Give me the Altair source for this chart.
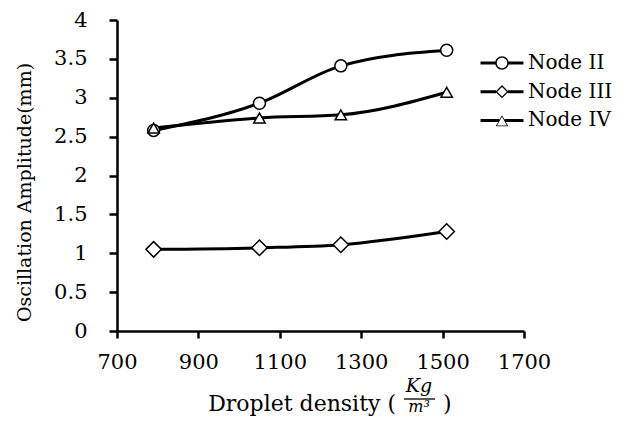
import altair as alt
import pandas as pd

# ---- data ----
density = [790, 1050, 1250, 1510]
node_ii = [2.58, 2.93, 3.41, 3.61]
node_iii = [1.05, 1.07, 1.11, 1.28]
node_iv = [2.61, 2.74, 2.78, 3.07]
series = ["Node II", "Node III", "Node IV"]
shapes = ["circle", "diamond", "triangle-up"]
marker_sizes = [144, 240, 130]
x_ticks = [700, 900, 1100, 1300, 1500, 1700]
y_ticks = [0, 0.5, 1, 1.5, 2, 2.5, 3, 3.5, 4]

FONT = "DejaVu Serif"

rows = []
for name, vals, sz in zip(series, [node_ii, node_iii, node_iv], marker_sizes):
    for d, v in zip(density, vals):
        rows.append({"density": d, "amp": v, "series": name, "msize": sz})
df = pd.DataFrame(rows)

# legend symbols: line through a ring-shaped marker (units of sqrt(size)/2 px)
circle_path = ("M-3.58,-0.25 L-1,-0.25 L-1,0.25 L-3.58,0.25 Z "
               "M1,-0.25 L3.58,-0.25 L3.58,0.25 L1,0.25 Z "
               "M-1.125,0 A1.125,1.125 0 1,1 1.125,0 A1.125,1.125 0 1,1 -1.125,0 Z "
               "M-0.875,0 A0.875,0.875 0 1,0 0.875,0 A0.875,0.875 0 1,0 -0.875,0 Z")
diamond_path = ("M-3.58,-0.25 L-1,-0.25 L-1,0.25 L-3.58,0.25 Z "
                "M1,-0.25 L3.58,-0.25 L3.58,0.25 L1,0.25 Z "
                "M0,-1.1 L1.1,0 L0,1.1 L-1.1,0 Z "
                "M0,-0.8 L-0.8,0 L0,0.8 L0.8,0 Z")
triangle_path = ("M-3.58,-0.25 L-0.45,-0.25 L-0.45,0.25 L-3.58,0.25 Z "
                 "M0.45,-0.25 L3.58,-0.25 L3.58,0.25 L0.45,0.25 Z "
                 "M0,-0.85 L1.05,0.97 L-1.05,0.97 Z "
                 "M0,-0.6 L-0.834,0.845 L0.834,0.845 Z")
legend_shapes = [circle_path, diamond_path, triangle_path]

x_enc = alt.X(
    "density:Q",
    scale=alt.Scale(domain=[700, 1700], nice=False, zero=False),
    axis=alt.Axis(values=x_ticks, format="d", title=None, grid=False,
                  tickSize=7, labelPadding=13, labelFontSize=21,
                  labelOverlap=False, labelFlush=False),
)
y_enc = alt.Y(
    "amp:Q",
    scale=alt.Scale(domain=[0, 4], nice=False),
    axis=alt.Axis(values=y_ticks, format="~g", grid=False, tickSize=8,
                  labelPadding=22, labelFontSize=21, labelOverlap=False,
                  labelFlush=False,
                  title="Oscillation Amplitude(mm)", titleFont=FONT,
                  titleFontSize=19, titleFontWeight="normal", titleColor="black",
                  titleAngle=270, titleX=-93, titleY=172, titleAlign="center",
                  titleBaseline="middle"),
)

base = alt.Chart(df)

lines = base.mark_line(interpolate="monotone", color="black", strokeWidth=3).encode(
    x=x_enc, y=y_enc, detail="series:N"
)

points = base.mark_point(filled=True, fill="white", stroke="black",
                         strokeWidth=1.5, opacity=1).encode(
    x=x_enc,
    y=y_enc,
    shape=alt.Shape("series:N", scale=alt.Scale(domain=series, range=shapes),
                    legend=None),
    size=alt.Size("msize:Q", scale=None),
)

# legend-only layer (no marks drawn): line-and-marker symbols
legend_layer = base.transform_filter("false").mark_point(
    filled=True, fill="black", strokeWidth=0
).encode(
    x=x_enc,
    y=y_enc,
    shape=alt.Shape(
        "series:N",
        scale=alt.Scale(domain=series, range=legend_shapes),
        legend=alt.Legend(
            title=None, orient="none", legendX=375, legendY=33, padding=0,
            symbolSize=144, labelOffset=16, rowPadding=8.7,
            labelFont=FONT, labelFontSize=20, labelColor="black",
            symbolFillColor="black", symbolStrokeWidth=0, symbolOpacity=1,
        ),
    ),
)

# composite x-axis title: Droplet density ( Kg / m³ )
t_main = alt.Chart(pd.DataFrame({"t": ["Droplet density ("]})).mark_text(
    align="right", baseline="alphabetic", font=FONT, fontSize=22, color="black"
).encode(x=alt.value(279), y=alt.value(391), text="t:N")
t_num = alt.Chart(pd.DataFrame({"t": ["Kg"]})).mark_text(
    align="center", baseline="alphabetic", font=FONT, fontSize=19,
    fontStyle="italic", color="black"
).encode(x=alt.value(302), y=alt.value(372), text="t:N")
t_bar = alt.Chart(pd.DataFrame({"t": ["bar"]})).mark_rule(
    color="black", strokeWidth=1.3
).encode(x=alt.value(287), x2=alt.value(318), y=alt.value(379))
t_den = alt.Chart(pd.DataFrame({"t": ["m³"]})).mark_text(
    align="center", baseline="alphabetic", font=FONT, fontSize=16,
    fontStyle="italic", color="black"
).encode(x=alt.value(302), y=alt.value(392), text="t:N")
t_close = alt.Chart(pd.DataFrame({"t": [")"]})).mark_text(
    align="left", baseline="alphabetic", font=FONT, fontSize=22, color="black"
).encode(x=alt.value(326), y=alt.value(391), text="t:N")

chart = alt.layer(lines, points, legend_layer, t_main, t_num, t_bar, t_den,
                  t_close).resolve_scale(shape="independent").properties(
    width=407, height=311,
    autosize=alt.AutoSizeParams(type="none"),
    padding={"left": 109, "top": 12, "right": 95, "bottom": 86},
).configure_view(stroke=None).configure_axis(
    domainColor="black", domainWidth=2.5, tickColor="black", tickWidth=2.5,
    labelFont=FONT, labelColor="black",
)

chart.save("out.html", embed_options={"renderer": "svg", "actions": False})
